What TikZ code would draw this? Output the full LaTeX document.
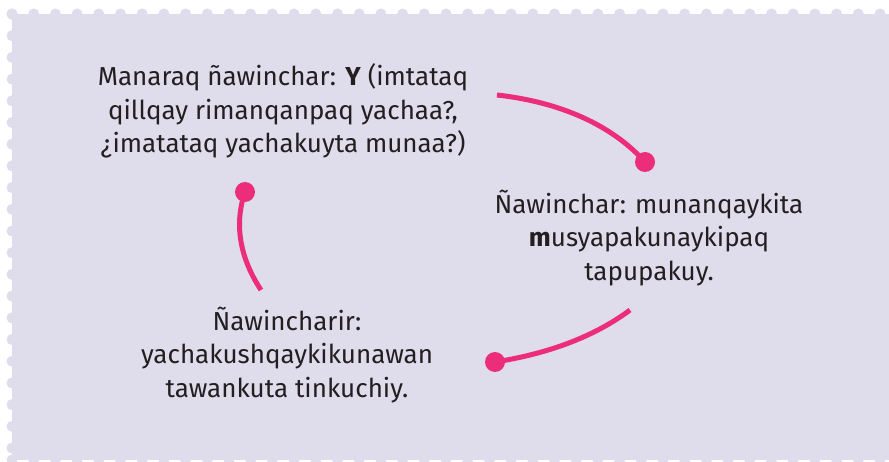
\documentclass[tikz,border=0pt]{standalone}
\usepackage{fontspec}
\setmainfont{Fira Sans}
\usepackage{xcolor}
\usetikzlibrary{positioning}

\definecolor{stampbg}{HTML}{DFDCEC}
\definecolor{loopink}{HTML}{EC2D7A}
\definecolor{inktext}{HTML}{231F20}

\begin{document}
\begin{tikzpicture}[x=1pt, y=-1pt]
\tikzstyle{stage} = [text=inktext, align=center, font=\fontsize{26}{33.5}\selectfont, inner sep=0pt]
\tikzstyle{arc} = [loopink, line width=5pt]
\tikzstyle{dot} = [circle, fill=loopink, minimum size=20pt, inner sep=0pt]

\useasboundingbox (0,0) rectangle (889,462);

% stamp background
\fill[stampbg] (12,14) rectangle (889,460);
\foreach \i in {0,...,40} {
  \fill[stampbg] (12+21.7*\i,14) circle (5.5);
  \fill[stampbg] (12+21.7*\i,460) circle (5.5);
}
\foreach \i in {0,...,20} {
  \fill[stampbg] (12,14+21.7*\i) circle (5.5);
}

% texts
\node (ask) [stage] at (283,111) {Manaraq ñawinchar: \textbf{Y} (imtataq\\qillqay rimanqanpaq yachaa?,\\¿imatataq yachakuyta munaa?)};
\node (read) [stage] at (649,238) {Ñawinchar: munanqaykita\\\textbf{m}usyapakunaykipaq\\tapupakuy.};
\node (after) [stage] at (287,355) {Ñawincharir:\\yachakushqaykikunawan\\tawankuta tinkuchiy.};

% arcs of the loop
\coordinate (a1) at (497,95);
\node (d1) [dot] at (645,162) {};
\coordinate (a2) at (630,310);
\node (d2) [dot] at (495,362) {};
\coordinate (a3) at (261,290);
\node (d3) [dot] at (245,192) {};

\draw [arc] (a1) .. controls (560,102) and (612,125) .. (d1.center);
\draw [arc] (a2) .. controls (590,340) and (540,355) .. (d2.center);
\draw [arc] (a3) .. controls (236,252) and (236,218) .. (d3.center);

\end{tikzpicture}
\end{document}
